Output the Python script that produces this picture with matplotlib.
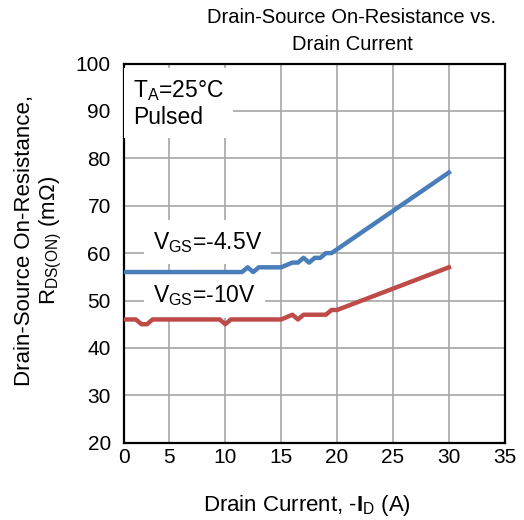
import matplotlib
matplotlib.use("Agg")
import matplotlib.pyplot as plt

plt.rcParams['font.family'] = ['Liberation Sans', 'DejaVu Sans']
plt.rcParams['mathtext.fontset'] = 'custom'
plt.rcParams['mathtext.rm'] = 'Liberation Sans'
plt.rcParams['mathtext.it'] = 'Liberation Sans:italic'
plt.rcParams['mathtext.bf'] = 'Liberation Sans:bold'

# data
id_45 = [1, 11.5, 12, 12.5, 13, 15, 16, 16.5, 17, 17.5, 18, 18.5, 19, 19.5, 30]
rds_45 = [56, 56, 57, 56, 57, 57, 58, 58, 59, 58, 59, 59, 60, 60, 77]

id_10 = [1, 2, 2.5, 3, 3.5, 9.5, 10, 10.5, 15, 16, 16.5, 17, 19, 19.5, 20, 30]
rds_10 = [46, 46, 45, 45, 46, 46, 45, 46, 46, 47, 46, 47, 47, 48, 48, 57]

x_ticks = [5, 10, 15, 20, 25, 30, 35]
x_labels = ['0', '5', '10', '15', '20', '25', '30', '35']
y_ticks = [20, 30, 40, 50, 60, 70, 80, 90, 100]

# the original's x axis starts a bit right of 0 although it is labelled 0
x_left = 0.94

fig = plt.figure(figsize=(5.24, 5.20), dpi=100)
ax = fig.add_axes([124 / 524, 1 - 442.7 / 520, 381 / 524, 379.2 / 520])

ax.plot(id_45, rds_45, color='#4a7ebb', lw=3.2, solid_joinstyle='round', zorder=4)
ax.plot(id_10, rds_10, color='#be4b48', lw=3.2, solid_joinstyle='round', zorder=4)

ax.set_xlim(x_left, 35.02)
ax.set_ylim(20, 100)
ax.set_xticks([x_left] + x_ticks)
ax.set_xticklabels(x_labels)
ax.set_yticks(y_ticks)
ax.tick_params(length=0, labelsize=15, colors='black')
ax.tick_params(axis='x', pad=4)
ax.tick_params(axis='y', pad=9.5)
ax.grid(True, color='#a6a6a6', lw=1.2, zorder=1)
ax.set_axisbelow(True)
for s in ax.spines.values():
    s.set_linewidth(1.6)
    s.set_color('black')

box = dict(boxstyle='square,pad=0.4', facecolor='white', edgecolor='none')
ax.text(0.024, 0.895, 'T$_{\\mathrm{A}}$=25°C\nPulsed', transform=ax.transAxes,
        fontsize=16.5, va='center', ha='left', bbox=box, zorder=3,
        linespacing=1.15)
ax.text(0.076, 0.529, r'V$_{\mathrm{GS}}$=-4.5V', transform=ax.transAxes,
        fontsize=16.5, va='center', ha='left', bbox=box, zorder=3)
ax.text(0.076, 0.387, r'V$_{\mathrm{GS}}$=-10V', transform=ax.transAxes,
        fontsize=16.5, va='center', ha='left', bbox=box, zorder=3)

fig.text(352 / 524, 1 - 31 / 520, 'Drain-Source On-Resistance vs.\nDrain Current',
         ha='center', va='center', fontsize=14.5, linespacing=1.55)
fig.text(307 / 524, 1 - 505 / 520, r'Drain Current, -$\mathbf{I}_{\mathrm{D}}$ (A)',
         ha='center', va='center', fontsize=16)
fig.text(39 / 524, 1 - 240 / 520, 'Drain-Source On-Resistance,\nR$_{\\mathrm{DS(ON)}}$ (m\u03a9)',
         ha='center', va='center', rotation=90, fontsize=16, linespacing=1.2,
         multialignment='center')

fig.savefig('out.png', dpi=100)
